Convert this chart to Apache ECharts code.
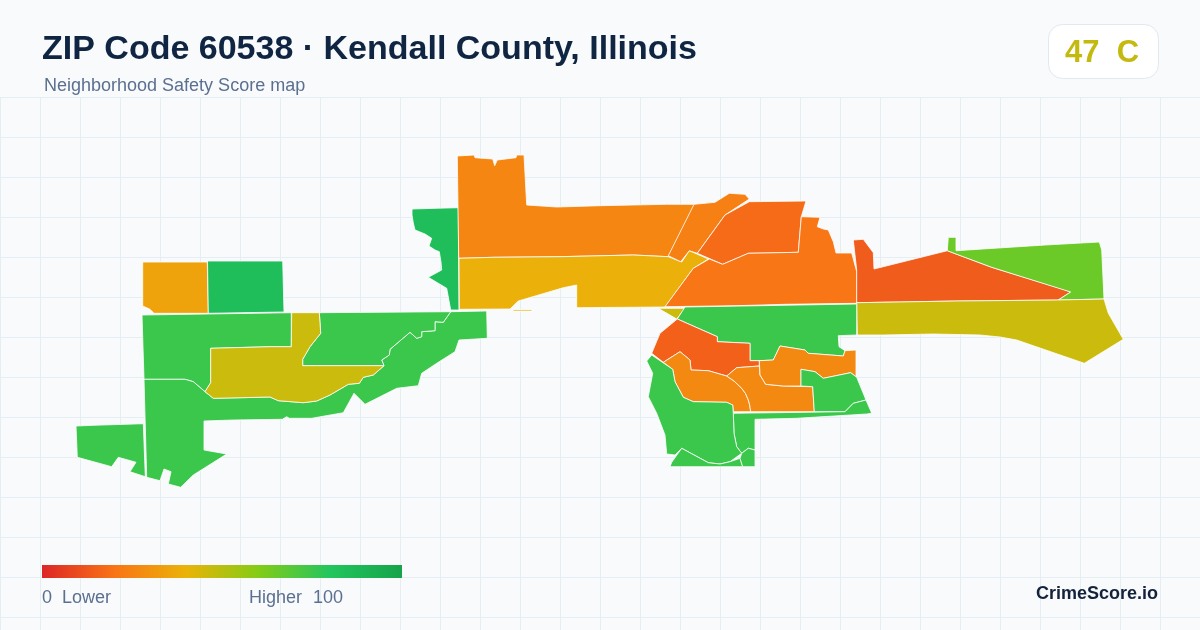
<!DOCTYPE html>
<html>
<head>
<meta charset="utf-8">
<title>ZIP Code 60538 - Kendall County, Illinois</title>
<script src="https://cdn.jsdelivr.net/npm/echarts@6/dist/echarts.min.js"></script>
<style>
  html, body { margin: 0; padding: 0; background: #f8fafc; }
  #main { width: 1200px; height: 630px; }
</style>
</head>
<body>
<div id="main"></div>
<script>
// block group outlines
const regionA = [[142.7,262],[207.3,262],[208.3,313.3],[154,313.3],[150,309.3],[142.7,306]]
const regionB = [[207.5,261],[282.7,261],[284,312],[208.3,313.3]]
const regionC = [[142,315],[291.3,312.7],[291.3,346.7],[270.7,346.7],[210.7,348.3],[210.7,382.7],[205,391.7],[193.3,381.7],[185,379.3],[144,379.3]]
const regionD = [[144,379.3],[185,379.3],[193.3,381.7],[205,391.7],[213.3,398.3],[241.7,397.7],[270,397],[278.3,400.7],[303.3,402.7],[316.7,401],[330,395],[348.3,384.3],[359.3,383.3],[363.3,377.3],[373.3,375],[384,365.7],[381.7,360],[389.3,355],[390,349.3],[410,332.3],[416.7,338.3],[421.7,336.7],[421.7,331.7],[435,330.7],[435,321.7],[443.3,322.3],[450.7,311.7],[486.7,311],[487.3,338.3],[459,340],[455,351.7],[436.7,363.3],[421.7,373.3],[418.3,385.7],[396.7,388.3],[365,404.3],[354,393.3],[343.3,412.7],[311.7,418.3],[289.3,418.3],[286.7,416.7],[282.3,419.3],[233.3,420],[204,421],[204,450],[226.7,454],[193.3,475],[180.7,487.3],[168.3,484],[171,471.7],[164,469],[160,480.7],[146.7,477.3]]
const regionE = [[76,426],[93.3,425.3],[143.3,423.7],[145.3,476.7],[130,471.7],[136,462.3],[118.3,457.3],[111.7,466.7],[77.3,457.3]]
const regionF = [[319.3,312.7],[450.7,311.7],[443.3,322.3],[435,321.7],[435,330.7],[421.7,331.7],[421.7,336.7],[416.7,338.3],[410,332.3],[390,349.3],[389.3,355],[381.7,360],[384,365.7],[302.7,365.7],[302.7,359.3],[310,346.7],[320.7,333.3]]
const regionG = [[291.7,312.7],[319.3,312.7],[320.7,333.3],[310,346.7],[302.7,359.3],[302.7,365.7],[384,365.7],[373.3,375],[363.3,377.3],[359.3,383.3],[348.3,384.3],[330,395],[316.7,401],[303.3,402.7],[278.3,400.7],[270,397],[241.7,397.7],[213.3,398.3],[205,391.7],[210.7,382.7],[210.7,348.3],[270.7,346.7],[291.3,346.7]]
const regionH = [[412,209],[435,208.3],[458.3,207.7],[459,310],[450.7,310],[446.7,288.3],[428.3,277.3],[441.7,270],[441,262],[439.3,251.7],[435,250],[429,246],[431.7,238.3],[425,234],[415,230],[413.3,223],[412,215]]
const regionI = [[457.3,156],[474,155],[475,157.7],[492.7,159],[494.7,165.7],[497.3,160],[516,157.7],[516.7,155],[524,155],[526.7,205],[556.7,207],[600,205.7],[666.7,204.3],[694.7,204.3],[668.3,256.7],[633.3,255],[560,256.7],[493.3,257.3],[458.7,258.3]]
const regionJ = [[459,258.3],[493.3,257.3],[560,256.7],[633.3,255],[668.3,256.7],[681.7,262],[689.3,250.7],[708.3,259],[693.3,268.3],[665,307],[576.7,307.7],[576.7,285],[563.3,287.7],[518.3,301],[510,309],[459.3,309.3]]
const regionJ2 = [[513,309.5],[532,309.5],[532,311],[513,311]]
const regionK = [[694,204.3],[715,202.3],[729.3,193.3],[745,194.3],[749.3,199],[725,215],[697.3,253.3],[689.3,250.7],[680.7,261.7],[668.3,255.7]]
const regionL = [[749.3,201.7],[806,201],[801.3,216.7],[798.3,252.3],[748.3,253.3],[722.7,264.3],[697.3,253.3],[725,215]]
const regionM = [[709.3,259],[722.7,264.3],[748.3,253.3],[798.3,252.3],[801.3,216.7],[820,217.3],[817.3,226.7],[823.3,229],[828.3,230],[833.3,241.7],[836,253],[851.7,253],[856.7,271.7],[856.7,303.3],[785,304.3],[736.7,305.7],[665,306.7],[693.3,268.3]]
const regionN = [[853.3,240],[863.3,239.3],[873.3,252.7],[874,269],[947.3,250.7],[991.7,267.3],[1063.3,289.3],[1070.7,292],[1058.3,300],[956.7,301],[856.7,302.7],[856.7,270]]
const regionO = [[948.3,237.3],[956,237.3],[956,250.7],[1045,245],[1099.3,242],[1101.7,250],[1104,299],[1058.3,300],[1070.7,292],[991.7,267.3],[956,254],[947.3,250.7]]
const regionP = [[856.7,302.7],[956.7,301],[1058.3,300],[1104,299],[1108.3,313.3],[1123.3,339.3],[1084.3,363.3],[1016.7,340],[1000,337],[980,335],[933.3,334],[883.3,335],[857.3,335]]
const regionQ = [[658.3,308.3],[685,308.3],[676.7,319]]
const regionR = [[685,307],[856.7,304],[856.7,335],[838.3,335.7],[839,346.7],[845,350.7],[843.3,356],[808.3,353.3],[805,350],[780,346],[773.3,360],[759.3,360.7],[750,360.7],[750,343.3],[717.3,341.7],[717.3,336.7],[677.3,319]]
const regionS = [[677.3,319],[717.3,336.7],[717.3,341.7],[750,343.3],[750,360.7],[759.3,360.7],[759.3,366],[736.7,367.7],[726.7,376],[708.3,370.7],[691,370],[690,360],[680,351.7],[663.3,362.3],[651.7,353.3],[660,333.3]]
const regionT = [[680,351.7],[690,360],[691,370],[708.3,370.7],[726.7,376],[734,381],[741.7,388.3],[745.5,393.5],[748.3,400],[749.7,405],[750.7,411.7],[733.3,411.7],[732.7,405],[726.7,402.3],[693.3,401.7],[683.3,397.3],[675,381.7],[672.7,369.3],[663.3,362.3]]
const regionU = [[726.7,376],[736.7,367.7],[759.3,366],[760,375],[765.7,384.3],[783.3,386],[812.7,386.7],[814.3,411.7],[750.7,411.7],[749.7,405],[748.3,400],[745.5,393.5],[741.7,388.3],[734,381]]
const regionV = [[759.3,360.7],[773.3,360],[780,346],[805,350],[808.3,353.3],[843.3,356],[845,350.7],[856,350],[856,376.7],[850.7,372.7],[823.3,378.3],[815,371.7],[801,369.3],[801,386],[783.3,386],[765.7,384.3],[760,375]]
const regionW = [[801,369.3],[815,371.7],[823.3,378.3],[850.7,372.7],[856.7,377.3],[866,400],[853.3,403.3],[845,411.7],[814.3,411.7],[812.7,386.7],[801,386]]
const regionX = [[733.3,413.3],[845,411.7],[853.3,403.3],[866,400],[871.7,413.3],[866.7,414],[796.7,418.3],[755,419.3],[755,450],[748.3,448.3],[741.7,453.3],[736.7,446.7],[734,433.3]]
const regionY = [[651.7,355],[672.7,369.3],[675,381.7],[683.3,397.3],[693.3,401.7],[726.7,402.3],[732.7,405],[733.3,413.3],[734,433.3],[736.7,446.7],[741.7,453.3],[730,461.7],[720,464],[708.3,462.7],[681.7,448.3],[675,455],[666.7,454],[665,435],[656.7,413.3],[648.3,396.7],[652.7,373.3],[646.7,361]]
const regionZ = [[681.7,448.3],[708.3,462.7],[720,464],[730,461.7],[740,458.3],[742.7,466.7],[670,466.7],[671.7,462.3]]
const regionAA = [[740,458.3],[741.7,453.3],[748.3,448.3],[755,450],[755,466.7],[742.7,466.7]]

const regionRings = [[regionA],[regionB],[regionC],[regionD],[regionE],[regionF],[regionG],[regionH],[regionI],[regionJ,regionJ2],[regionK],[regionL],[regionM],[regionN],[regionO],[regionP],[regionQ],[regionR],[regionS],[regionT],[regionU],[regionV],[regionW],[regionX],[regionY],[regionZ],[regionAA]]
const scores = [35,84,75,75,75,75,46,84,26,39,24,18,21,14,65,46,46,75,15,27,27,27,75,75,75,75,75]
const rampColors = ['#dc2626','#f97316','#eab308','#84cc16','#22c55e','#16a34a']

const titleText = 'ZIP Code 60538 · Kendall County, Illinois'
const subtitleText = 'Neighborhood Safety Score map'
const overallText = '47  C'
const overallColor = '#c4b90f'

// geojson has y going up, so the outlines get flipped
const flip = ring => {
  const r = ring.map(p => [p[0], -p[1]])
  r.push(r[0])
  return r
}
const features = regionRings.map((rings, i) => ({
  type: 'Feature',
  properties: { name: 'r' + i },
  geometry: { type: 'MultiPolygon', coordinates: rings.map(ring => [flip(ring)]) }
}))
echarts.registerMap('zip60538', { type: 'FeatureCollection', features: features })

const textStyle = (text, x, y, size, weight, color, align) => ({
  type: 'text', x: x, y: y, z: 20,
  style: {
    text: text, fill: color, align: align || 'left', verticalAlign: 'middle',
    font: weight + ' ' + size + 'px "Liberation Sans", Arial, sans-serif'
  }
})

const chart = echarts.init(document.getElementById('main'), null, { renderer: 'canvas' })
chart.setOption({
  animation: false,
  backgroundColor: '#f8fafc',
  grid: { left: 0, top: 97, width: 1200, height: 533, containLabel: false },
  xAxis: {
    type: 'value', min: 0, max: 1200, interval: 40,
    axisLine: { show: false }, axisTick: { show: false }, axisLabel: { show: false },
    splitLine: { show: true, lineStyle: { color: '#e5eef2', width: 1 } }
  },
  yAxis: {
    type: 'value', min: 0, max: 533, interval: 40, inverse: true,
    axisLine: { show: false }, axisTick: { show: false }, axisLabel: { show: false },
    splitLine: { show: true, lineStyle: { color: '#e5eef2', width: 1 } }
  },
  // the visualMap's own bar has round ends, the legend is drawn below instead
  visualMap: {
    type: 'continuous', min: 0, max: 100, show: false,
    seriesIndex: 0,
    inRange: { color: rampColors }
  },
  series: [{
    type: 'map',
    map: 'zip60538',
    silent: true,
    roam: false,
    left: 0, top: 0, width: 1200, height: 630,
    boundingCoords: [[0, 0], [1200, -630]],
    label: { show: false },
    emphasis: { disabled: true },
    select: { disabled: true },
    itemStyle: { borderColor: '#ffffff', borderWidth: 0.8 },
    data: scores.map((s, i) => ({ name: 'r' + i, value: s }))
  }],
  graphic: [
    textStyle(titleText, 42, 50, 34, 'bold', '#0f2542'),
    textStyle(subtitleText, 44, 86, 18, 'normal', '#5b7090'),
    {
      type: 'rect', z: 19,
      shape: { x: 1048.5, y: 24.5, width: 110, height: 54, r: 14 },
      style: { fill: '#ffffff', stroke: '#e2e8f0', lineWidth: 1 }
    },
    textStyle(overallText, 1065, 53, 31, 'bold', overallColor),
    {
      type: 'rect', z: 19,
      shape: { x: 42, y: 565, width: 360, height: 13 },
      style: {
        fill: new echarts.graphic.LinearGradient(0, 0, 1, 0,
          rampColors.map((c, i) => ({ offset: i / (rampColors.length - 1), color: c })))
      }
    },
    textStyle('0', 42, 598, 18, 'normal', '#5b7090'),
    textStyle('Lower', 62, 598, 18, 'normal', '#5b7090'),
    textStyle('Higher', 249, 598, 18, 'normal', '#5b7090'),
    textStyle('100', 313, 598, 18, 'normal', '#5b7090'),
    textStyle('CrimeScore.io', 1158, 594, 18, 'bold', '#14233b', 'right')
  ]
})
</script>
</body>
</html>
